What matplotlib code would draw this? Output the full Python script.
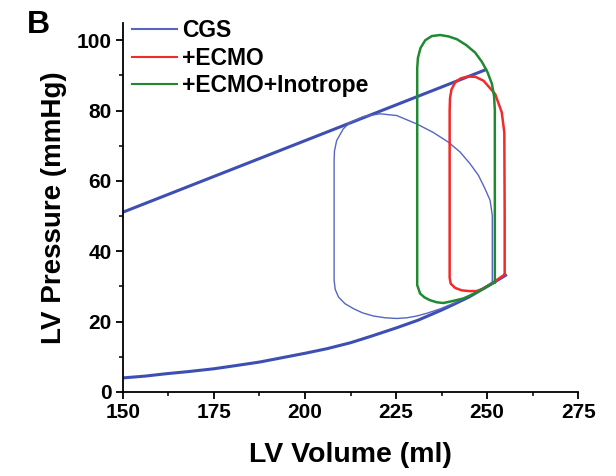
import numpy as np
import matplotlib
matplotlib.use("Agg")
import matplotlib.pyplot as plt
from matplotlib.ticker import MultipleLocator, AutoMinorLocator

plt.rcParams['font.family'] = ['Liberation Sans', 'DejaVu Sans']
plt.rcParams['font.weight'] = 'bold'

# end-systolic pressure-volume line (straight)
espvr_v = [150.0, 250.0]
espvr_p = [51.1, 91.8]

# end-diastolic pressure-volume curve
edpvr_v = [150.0, 156.0, 162.0, 168.0, 175.0, 181.0, 187.5, 193.0, 200.0, 206.0,
           212.5, 218.0, 225.0, 231.0, 237.5, 241.0, 245.0, 250.0, 255.4]
edpvr_p = [4.0, 4.5, 5.2, 5.8, 6.6, 7.5, 8.5, 9.6, 11.0, 12.3,
           14.0, 15.8, 18.2, 20.4, 23.3, 25.0, 27.0, 30.0, 33.4]

# PV loop, baseline (CGS)
cgs_v = [251.4, 251.4, 251.4, 250.8, 249.4, 247.6, 245.3, 242.6, 239.4, 235.2, 230.7,
         225.2, 220.6, 216.0, 212.4, 210.5, 208.7, 208.1, 208.0, 208.0, 208.0, 208.3,
         209.2, 211.0, 213.3, 215.8, 218.8, 222.0, 225.2, 228.0, 230.7, 233.5, 237.0,
         241.0, 245.0, 248.5, 251.4]
cgs_p = [31.2, 40.0, 50.2, 54.5, 57.8, 61.6, 64.9, 68.2, 71.0, 73.8, 76.2,
         78.6, 79.1, 78.3, 76.7, 74.8, 71.5, 68.5, 65.8, 45.0, 31.8, 29.2,
         27.0, 25.1, 23.7, 22.5, 21.6, 21.1, 20.9, 21.1, 21.6, 22.4, 23.6,
         25.3, 27.2, 29.3, 31.2]

# PV loop with ECMO
ecmo_v = [254.8, 254.8, 254.7, 254.0, 252.2, 249.0, 246.8, 244.8, 242.8, 241.2, 240.2,
          239.8, 239.7, 239.7, 239.7, 240.0, 241.2, 243.0, 245.0, 247.1, 249.0, 251.5, 254.8]
ecmo_p = [33.4, 50.0, 73.8, 79.5, 84.7, 88.5, 89.6, 89.7, 89.2, 88.0, 86.0,
          83.5, 80.0, 50.0, 32.5, 30.8, 29.6, 28.9, 28.7, 28.7, 29.4, 31.0, 33.4]

# PV loop with ECMO + inotrope
ino_v = [252.1, 252.1, 252.1, 251.9, 251.3, 250.1, 248.6, 246.7, 244.3, 241.7, 239.4,
         237.1, 234.8, 233.0, 231.7, 231.0, 230.8, 230.8, 230.8, 231.6, 232.8, 234.3,
         236.2, 238.0, 240.7, 243.5, 246.5, 249.5, 252.1]
ino_p = [31.2, 60.0, 80.0, 84.0, 87.6, 90.9, 93.8, 96.5, 98.6, 100.3, 101.1,
         101.5, 101.2, 100.0, 97.8, 95.0, 92.0, 60.0, 30.4, 28.0, 26.9, 26.1,
         25.5, 25.3, 25.9, 26.6, 28.0, 29.7, 31.2]

blue = '#3d4fb3'
red = '#f22a2a'
green = '#1f8a32'

fig = plt.figure(figsize=(6.16, 4.76), dpi=100)
ax = fig.add_axes([0.1992, 0.1765, 0.7396, 0.7758])

ax.plot(espvr_v, espvr_p, color=blue, lw=2.2, solid_capstyle='butt')
ax.plot(edpvr_v, edpvr_p, color=blue, lw=2.2, solid_capstyle='butt')
ax.plot(cgs_v, cgs_p, color='#5666c0', lw=1.0, label='CGS')
ax.plot(ecmo_v, ecmo_p, color=red, lw=1.8, label='+ECMO')
ax.plot(ino_v, ino_p, color=green, lw=1.8, label='+ECMO+Inotrope')

ax.set_xlim(150, 275)
ax.set_ylim(0, 105)
ax.xaxis.set_major_locator(MultipleLocator(25))
ax.xaxis.set_minor_locator(AutoMinorLocator(2))
ax.yaxis.set_major_locator(MultipleLocator(20))
ax.yaxis.set_minor_locator(AutoMinorLocator(2))

for side in ['top', 'right']:
    ax.spines[side].set_visible(False)
for side in ['left', 'bottom']:
    ax.spines[side].set_linewidth(1.3)
ax.tick_params(which='major', direction='out', length=5, width=1.3, labelsize=15, pad=3)
ax.tick_params(which='minor', direction='out', length=3, width=1.1)
for lab in ax.get_xticklabels() + ax.get_yticklabels():
    lab.set_fontweight('bold')

ax.set_xlabel('LV Volume (ml)', fontsize=20.5, fontweight='bold', labelpad=14)
ax.set_ylabel('LV Pressure (mmHg)', fontsize=20, fontweight='bold', labelpad=7)

leg = ax.legend(loc='upper left', bbox_to_anchor=(132 / 616, 1 - 19 / 476),
                bbox_transform=fig.transFigure, frameon=False, fontsize=16.5,
                handlelength=1.95, handletextpad=0.25, labelspacing=0.2,
                borderpad=0, borderaxespad=0)
for t in leg.get_texts():
    t.set_fontweight('bold')
for h in leg.get_lines():
    h.set_linewidth(1.5)

fig.text(27 / 616, 1 - 25 / 476, 'B', fontsize=23, fontweight='bold', va='center', ha='left')

fig.savefig('out.png', dpi=100)
